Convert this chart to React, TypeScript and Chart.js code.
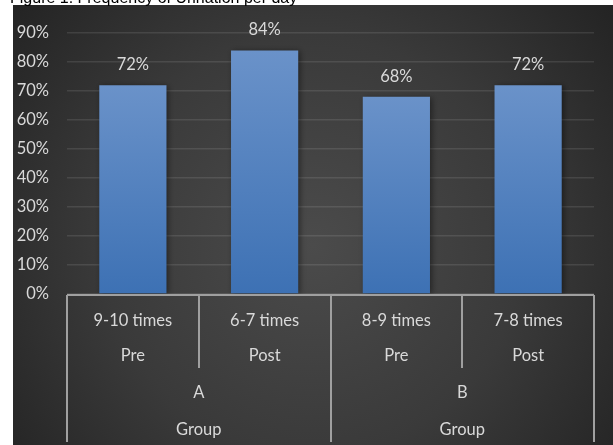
import React, { useEffect, useRef } from "react";
import { Chart, registerables } from "chart.js";

Chart.register(...registerables);

const titleText = "Figure 1: Frequency of Urination per day";
const categories = ["9-10 times", "6-7 times", "8-9 times", "7-8 times"];
const phases = ["Pre", "Post", "Pre", "Post"];
const groups = ["A", "B"];
const groupAxisTitle = "Group";
const values = [72, 84, 68, 72];
const yTicks = [0, 10, 20, 30, 40, 50, 60, 70, 80, 90];

const FONT = "Lato, 'Open Sans', sans-serif";
const TEXT = "#d9d9d9";
const LINE = "#a0a0a0";

const bgPlugin = {
  id: "bg",
  beforeDraw(chart: any) {
    const { ctx, width, height } = chart;
    ctx.save();
    ctx.fillStyle = "#ffffff";
    ctx.fillRect(0, 0, width, height);
    const x0 = 13, y0 = 5;
    const cx = (x0 + width) / 2, cy = (y0 + height) / 2 + 20;
    const g = ctx.createRadialGradient(cx, cy, 0, cx, cy, 380);
    g.addColorStop(0, "#4b4b4b");
    g.addColorStop(0.55, "#3a3a3a");
    g.addColorStop(1, "#242424");
    ctx.fillStyle = g;
    ctx.fillRect(x0, y0, width - x0, height - y0);
    ctx.fillStyle = "#000000";
    ctx.font = "16px 'Liberation Sans', Arial, sans-serif";
    ctx.textAlign = "left";
    ctx.textBaseline = "alphabetic";
    ctx.fillText(titleText, 10, 3);
    ctx.restore();
  },
};

const shadowPlugin = {
  id: "barShadow",
  beforeDatasetsDraw(chart: any) {
    const ctx = chart.ctx;
    ctx.save();
    ctx.shadowColor = "rgba(0,0,0,0.45)";
    ctx.shadowBlur = 6;
    ctx.shadowOffsetX = 2;
    ctx.shadowOffsetY = 1;
  },
  afterDatasetsDraw(chart: any) {
    chart.ctx.restore();
  },
};

const labelsPlugin = {
  id: "hierAxis",
  afterDraw(chart: any) {
    const { ctx, chartArea, scales } = chart;
    const x = scales.x;
    const n = categories.length;
    const left = chartArea.left;
    const bottom = chartArea.bottom + 1;
    const boundary = (i: number) =>
      i === 0 ? left : i === n ? chartArea.right : (x.getPixelForValue(i - 1) + x.getPixelForValue(i)) / 2;
    ctx.save();
    ctx.fillStyle = TEXT;
    ctx.font = `16.5px ${FONT}`;
    ctx.textAlign = "center";
    ctx.textBaseline = "alphabetic";
    const meta = chart.getDatasetMeta(0);
    meta.data.forEach((bar: any, i: number) => {
      ctx.fillText(values[i] + "%", bar.x, bar.y - 15);
    });
    ctx.strokeStyle = LINE;
    ctx.lineWidth = 2;
    ctx.beginPath();
    ctx.moveTo(left, bottom);
    ctx.lineTo(chartArea.right, bottom);
    for (let i = 0; i <= n; i++) {
      const bx = Math.round(boundary(i));
      const full = i % 2 === 0;
      ctx.moveTo(bx, bottom);
      ctx.lineTo(bx, full ? bottom + 147 : bottom + 73);
    }
    ctx.stroke();
    for (let i = 0; i < n; i++) {
      const cx = x.getPixelForValue(i);
      ctx.fillText(categories[i], cx, 326);
      ctx.fillText(phases[i], cx, 361);
    }
    for (let g = 0; g < groups.length; g++) {
      const gx = (boundary(g * 2) + boundary(g * 2 + 2)) / 2;
      ctx.fillText(groups[g], gx, 398);
      ctx.fillText(groupAxisTitle, gx, 435);
    }
    ctx.restore();
  },
};

export default function App() {
  const ref = useRef<HTMLCanvasElement | null>(null);
  useEffect(() => {
    if (!ref.current) return;
    const chart = new Chart(ref.current, {
      type: "bar",
      data: {
        labels: categories,
        datasets: [
          {
            data: values,
            categoryPercentage: 1,
            barPercentage: 0.51,
            borderWidth: 0,
            backgroundColor: (c: any) => {
              const ch = c.chart;
              const area = ch.chartArea;
              if (!area || c.dataIndex === undefined) return "#5585c2";
              const ys = ch.scales.y;
              const top = ys.getPixelForValue(values[c.dataIndex]);
              const g = ch.ctx.createLinearGradient(0, top, 0, area.bottom);
              g.addColorStop(0, "#6a92c9");
              g.addColorStop(1, "#3d71b4");
              return g;
            },
          },
        ],
      },
      options: {
        animation: false,
        responsive: false,
        maintainAspectRatio: false,
        layout: { padding: { top: 33, bottom: 151, right: 19, left: 0 } },
        plugins: { legend: { display: false }, tooltip: { enabled: false }, title: { display: false } },
        scales: {
          x: { display: false },
          y: {
            min: 0,
            max: 90,
            afterFit: (s: any) => {
              s.width = 67;
            },
            afterBuildTicks: (s: any) => {
              s.ticks = yTicks.map((v) => ({ value: v }));
            },
            border: { display: false },
            grid: { color: "rgba(255,255,255,0.10)", lineWidth: 1.5, drawTicks: false },
            ticks: {
              color: TEXT,
              font: { family: FONT, size: 16.5 },
              padding: 18,
              callback: (v: any) => v + "%",
            },
          },
        },
      },
      plugins: [bgPlugin, shadowPlugin, labelsPlugin],
    });
    return () => chart.destroy();
  }, []);
  return (
    <div style={{ position: "absolute", left: 0, top: 0, width: 613, height: 445 }}>
      <canvas ref={ref} width={613} height={445} style={{ width: 613, height: 445, display: "block" }} />
    </div>
  );
}
